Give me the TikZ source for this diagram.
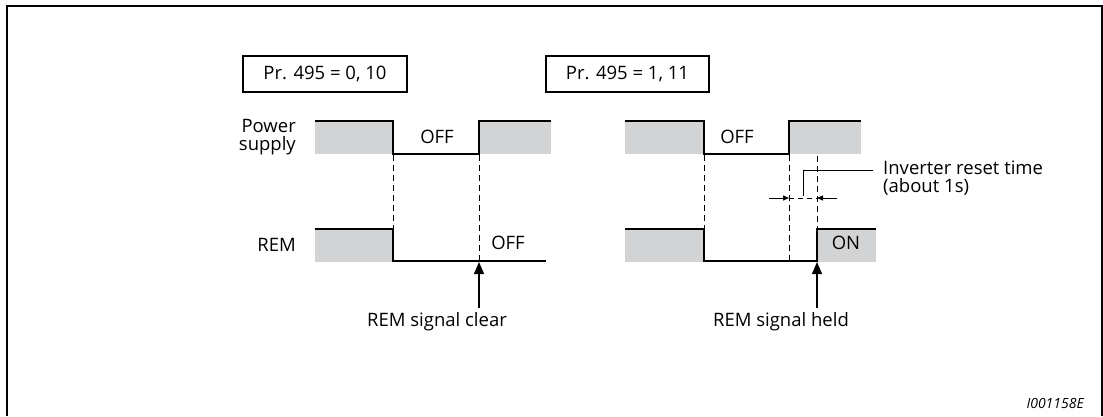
\documentclass[tikz,border=0pt]{standalone}
\usepackage{fontspec}
\setmainfont{Open Sans}
\usetikzlibrary{arrows.meta}
\definecolor{sigfill}{HTML}{D1D3D4}
\begin{document}
\begin{tikzpicture}[x=1pt,y=-1pt,
  wave/.style={line width=1.2pt},
  dashv/.style={line width=0.8pt, dash pattern=on 6pt off 4pt},
  lbl/.style={font=\fontsize{18.5}{18}\selectfont, inner sep=0pt},
  prbox/.style={draw, line width=1.2pt, minimum width=164pt, minimum height=36pt, font=\fontsize{18.5}{18}\selectfont, inner sep=0pt},
  bigarrow/.style={line width=1.2pt, -{Triangle[length=12pt,width=10pt]}},
  dimarrow/.style={line width=0.8pt, -{Triangle[length=6pt,width=5pt]}},
  leader/.style={line width=0.8pt}]
\useasboundingbox (0,0) rectangle (1103,416);
% frame
\draw[line width=1.5pt] (7,416) -- (7,6) -- (1102,6) -- (1102,416);
% parameter boxes
\node[prbox] (box1) at (325,74) {Pr. 495 = 0, 10};
\node[prbox, minimum width=163pt] (box2) at (627.5,74) {Pr. 495 = 1, 11};
% ---------- left diagram ----------
\fill[sigfill] (315,121) rectangle (393,154);
\fill[sigfill] (479,121) rectangle (551,154);
\draw[wave] (315,121) -- (393,121) -- (393,154) -- (479,154) -- (479,121) -- (551,121);
\fill[sigfill] (315,229) rectangle (393,262);
\draw[wave] (315,229) -- (393,229) -- (393,261) -- (546,261);
\draw[dashv] (393,155) -- (393,229);
\draw[dashv] (479,155) -- (479,261);
\node[lbl, anchor=east, align=right] (pslbl) at (296,137) {Power\\supply};
\node[lbl, anchor=east] (remlbl) at (296,245) {REM};
\node[lbl] (offa) at (437,137) {OFF};
\node[lbl] (offb) at (508,243) {OFF};
\coordinate (clr) at (479,262);
\node[lbl] (clrlbl) at (437,322) {REM signal clear};
\draw[bigarrow] (479,308) -- (clr);
% ---------- right diagram ----------
\fill[sigfill] (625,121) rectangle (704,154);
\fill[sigfill] (789,121) rectangle (861,154);
\draw[wave] (625,121) -- (704,121) -- (704,154) -- (789,154) -- (789,121) -- (861,121);
\fill[sigfill] (625,229) rectangle (704,262);
\fill[sigfill] (817,229) rectangle (876,262);
\draw[wave] (625,229) -- (704,229) -- (704,261) -- (817,261) -- (817,229) -- (876,229);
\draw[dashv] (704,155) -- (704,229);
\draw[dashv] (789,155) -- (789,261);
\draw[dashv] (817,156) -- (817,229);
\node[lbl] (offc) at (737,137) {OFF};
\node[lbl] (onlbl) at (846,243) {ON};
\coordinate (held) at (817,262);
\node[lbl] (heldlbl) at (781,322) {REM signal held};
\draw[bigarrow] (817,308) -- (held);
% inverter reset time
\coordinate (ra) at (789,198);
\coordinate (rb) at (817,198);
\coordinate (rl) at (769,198);
\coordinate (rr) at (837,198);
\draw[dimarrow] (rl) -- (ra);
\draw[dimarrow] (rr) -- (rb);
\draw[leader, dash pattern=on 5pt off 4pt] (ra) -- (rb);
\node[lbl, anchor=west, align=left] (invlbl) at (883,178) {Inverter reset time\\(about 1s)};
\coordinate (ld) at (803,196);
\coordinate (lt) at (873,170);
\draw[leader] (ld) -- (ld |- lt) -- (lt);
% id
\node[font=\fontsize{14}{16}\selectfont\itshape, inner sep=0pt, anchor=east] (idlbl) at (1084,403) {I001158E};
\end{tikzpicture}
\end{document}
